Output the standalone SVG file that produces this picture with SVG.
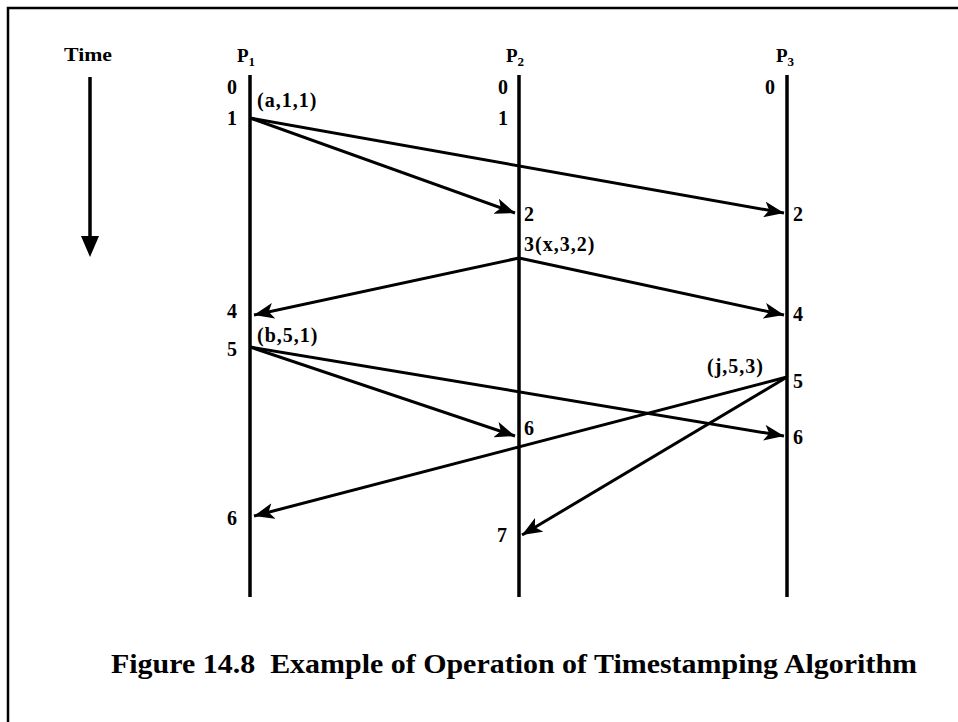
<svg xmlns="http://www.w3.org/2000/svg" width="958" height="722" viewBox="0 0 958 722">
<style>
.t{font-family:"Liberation Serif","Times New Roman",serif;font-weight:bold;font-size:20px;letter-spacing:1px;fill:#000}
.h{font-family:"Liberation Serif","Times New Roman",serif;font-weight:bold;font-size:19px;fill:#000}
.life{stroke:#000;stroke-width:3.5;fill:none}
.msg{stroke:#000;stroke-width:3;fill:none;marker-end:url(#ah)}
</style>
<defs>
<marker id="ah" markerUnits="userSpaceOnUse" markerWidth="22" markerHeight="16" refX="20" refY="8" orient="auto">
<path d="M0,0 L20,8 L0,16 L5,8 Z" fill="#000"/>
</marker>
</defs>
<rect x="0" y="0" width="958" height="722" fill="#fff"/>
<path d="M8,722 V8 H958" stroke="#000" stroke-width="2.5" fill="none"/>
<g id="time">
<text class="h" x="64" y="61" textLength="48" lengthAdjust="spacingAndGlyphs">Time</text>
<line x1="90" y1="77" x2="90" y2="240" stroke="#000" stroke-width="3.5"/>
<path d="M81,236 L99,236 L90,257 Z" fill="#000"/>
</g>
<g id="p1">
<text class="h" x="237" y="62">P<tspan font-size="13" dy="4">1</tspan></text>
<line class="life" x1="250" y1="75" x2="250" y2="597"/>
<text class="t" x="227" y="94">0</text>
<text class="t" x="227" y="125">1</text>
<text class="t" x="257" y="107">(a,1,1)</text>
<text class="t" x="227" y="318">4</text>
<text class="t" x="257" y="342">(b,5,1)</text>
<text class="t" x="227" y="356">5</text>
<text class="t" x="227" y="525">6</text>
</g>
<g id="p2">
<text class="h" x="506" y="62">P<tspan font-size="13" dy="4">2</tspan></text>
<line class="life" x1="519" y1="75" x2="519" y2="597"/>
<text class="t" x="498" y="94">0</text>
<text class="t" x="498" y="125">1</text>
<text class="t" x="524" y="221">2</text>
<text class="t" x="524" y="251">3(x,3,2)</text>
<text class="t" x="524" y="435">6</text>
<text class="t" x="497" y="542">7</text>
</g>
<g id="p3">
<text class="h" x="776" y="62">P<tspan font-size="13" dy="4">3</tspan></text>
<line class="life" x1="787" y1="75" x2="787" y2="597"/>
<text class="t" x="765" y="94">0</text>
<text class="t" x="793" y="221">2</text>
<text class="t" x="793" y="321">4</text>
<text class="t" x="707" y="373">(j,5,3)</text>
<text class="t" x="793" y="388">5</text>
<text class="t" x="793" y="444">6</text>
</g>
<g id="connectors">
<line class="msg" x1="250" y1="118" x2="515" y2="213"/>
<line class="msg" x1="250" y1="118" x2="784" y2="213"/>
<line class="msg" x1="519" y1="258" x2="254" y2="315"/>
<line class="msg" x1="519" y1="258" x2="784" y2="315"/>
<line class="msg" x1="250" y1="347" x2="515" y2="436"/>
<line class="msg" x1="250" y1="347" x2="784" y2="436"/>
<line class="msg" x1="787" y1="377" x2="254" y2="516"/>
<line class="msg" x1="787" y1="377" x2="522" y2="535"/>
</g>
<text x="111" y="673" font-family="'Liberation Serif','Times New Roman',serif" font-weight="bold" font-size="27" textLength="806" lengthAdjust="spacingAndGlyphs">Figure 14.8&#160; Example of Operation of Timestamping Algorithm</text>
</svg>
